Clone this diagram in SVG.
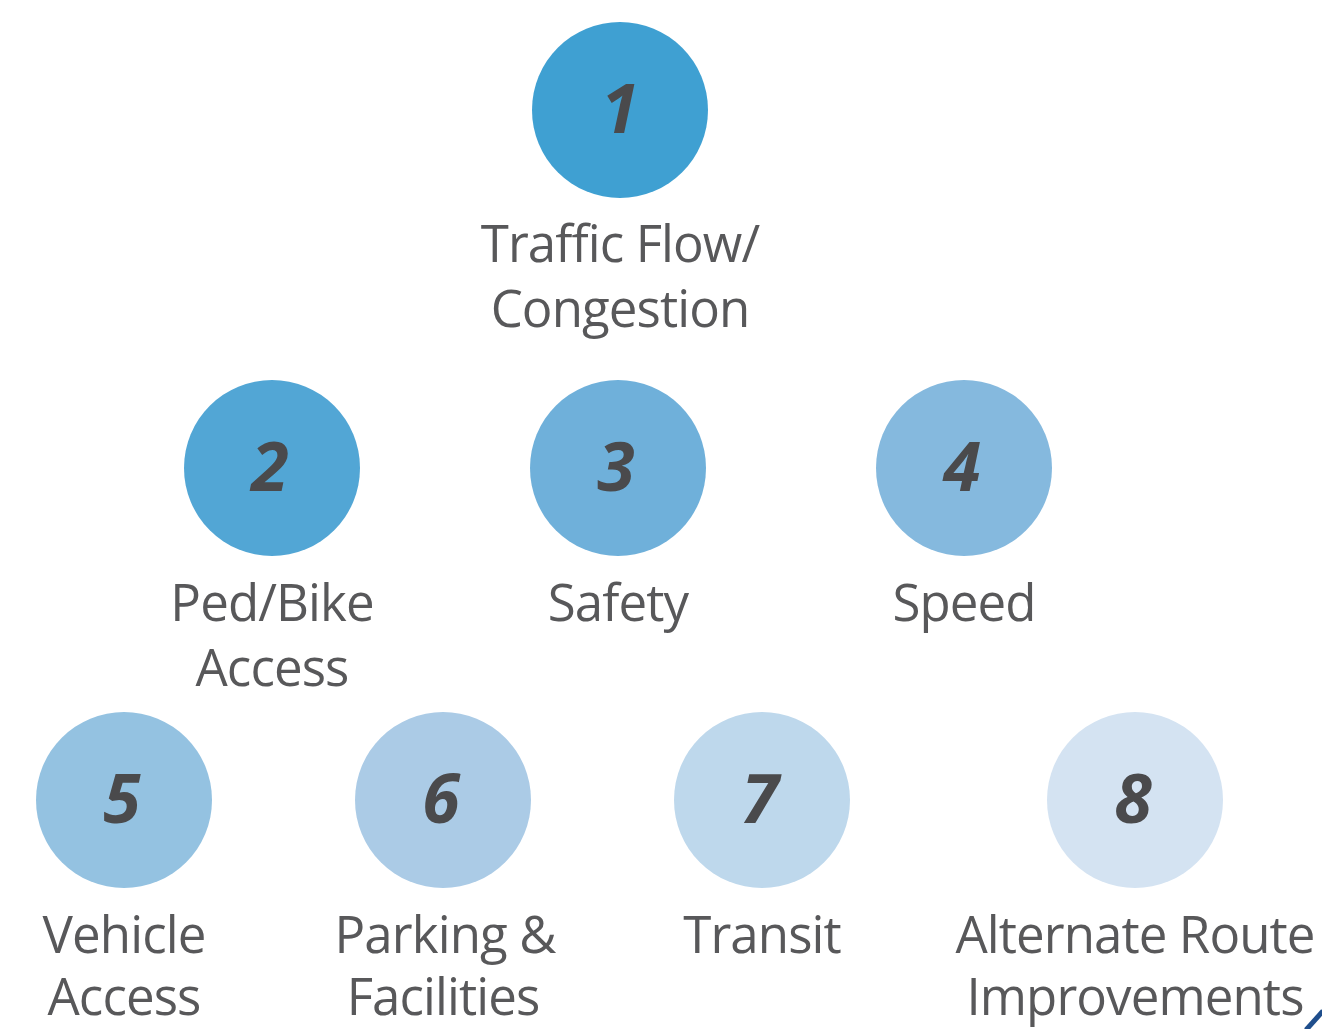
<svg xmlns="http://www.w3.org/2000/svg" width="1322" height="1029" viewBox="0 0 1322 1029">
<style>
.num{font-family:"Open Sans","Liberation Sans",sans-serif;font-weight:700;font-style:italic;font-size:68px;fill:#4a4a4c;text-anchor:middle}
.lbl{font-family:"Open Sans","Liberation Sans",sans-serif;font-size:51px;fill:#58585a;text-anchor:middle;letter-spacing:-0.9px}
</style>
<rect width="1322" height="1029" fill="#ffffff"/>
<g id="node1"><circle cx="620" cy="110" r="88" fill="#3fa0d2"/><text class="num" x="620" y="133">1</text><text class="lbl" x="620" y="262">Traffic Flow/</text><text class="lbl" x="620" y="327">Congestion</text></g>
<g id="node2"><circle cx="272" cy="468" r="88" fill="#52a6d5"/><text class="num" x="270" y="491">2</text><text class="lbl" x="272" y="621">Ped/Bike</text><text class="lbl" x="272" y="686">Access</text></g>
<g id="node3"><circle cx="618" cy="468" r="88" fill="#6fb0da"/><text class="num" x="616" y="491">3</text><text class="lbl" x="618" y="621">Safety</text></g>
<g id="node4"><circle cx="964" cy="468" r="88" fill="#85b9de"/><text class="num" x="962" y="491">4</text><text class="lbl" x="964" y="621">Speed</text></g>
<g id="node5"><circle cx="124" cy="800" r="88" fill="#94c2e1"/><text class="num" x="122" y="823">5</text><text class="lbl" x="124" y="953">Vehicle</text><text class="lbl" x="124" y="1015">Access</text></g>
<g id="node6"><circle cx="443" cy="800" r="88" fill="#abcbe6"/><text class="num" x="441" y="823">6</text><text class="lbl" x="445" y="953">Parking &amp;</text><text class="lbl" x="443" y="1015">Facilities</text></g>
<g id="node7"><circle cx="762" cy="800" r="88" fill="#bed8ec"/><text class="num" x="760" y="823">7</text><text class="lbl" x="762" y="953">Transit</text></g>
<g id="node8"><circle cx="1135" cy="800" r="88" fill="#d4e3f2"/><text class="num" x="1133" y="823">8</text><text class="lbl" x="1135" y="953">Alternate Route</text><text class="lbl" x="1135" y="1015">Improvements</text></g>
<g id="connectors"><path d="M1306 1030 L1323 1011" stroke="#1f4e8c" stroke-width="5" fill="none"/></g>
</svg>
